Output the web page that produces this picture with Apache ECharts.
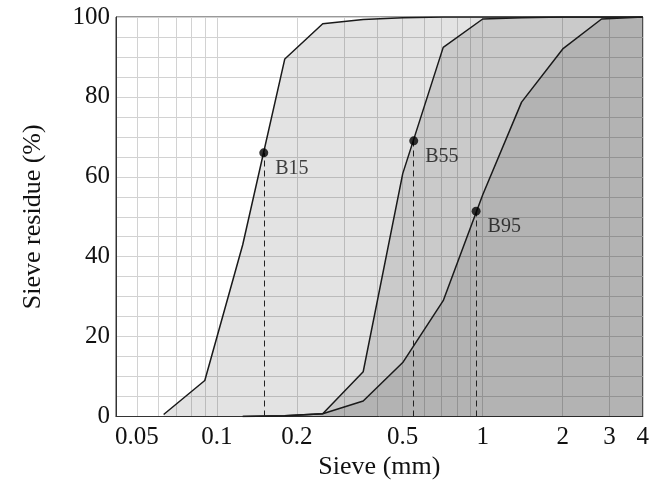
<!DOCTYPE html>
<html>
<head>
<meta charset="utf-8">
<script src="https://cdn.jsdelivr.net/npm/echarts@6/dist/echarts.min.js"></script>
<style>html,body{margin:0;padding:0;background:#fff}#c{width:652px;height:490px}</style>
</head>
<body>
<div id="c"></div>
<script>
// Sieve sizes (mm) and residue (%) per curve
const b15Sieve = [0.063, 0.09, 0.125, 0.18, 0.25, 0.355, 0.5, 0.71, 1, 4];
const b15Residue = [0.5, 9, 43, 89.5, 98.3, 99.4, 99.8, 100, 100, 100];
const b55Sieve = [0.125, 0.18, 0.25, 0.355, 0.5, 0.71, 1, 1.4, 2, 4];
const b55Residue = [0, 0.2, 0.7, 11.2, 60.8, 92.4, 99.5, 99.8, 100, 100];
const b95Sieve = [0.125, 0.18, 0.25, 0.355, 0.5, 0.71, 1, 1.4, 2, 2.8, 4];
const b95Residue = [0, 0.2, 0.7, 3.9, 13.5, 29, 55.5, 78.7, 92, 99.5, 100];
const markerNames = ['B15', 'B55', 'B95'];
const markerSieve = [0.15, 0.55, 0.944];
const markerResidue = [66, 69, 51.4];
const xGridValues = [0.05,0.06,0.07,0.08,0.09,0.1,0.2,0.3,0.4,0.5,0.6,0.7,0.8,0.9,1,2,3,4];
const xLabelValues = [0.05, 0.1, 0.2, 0.5, 1, 2, 3, 4];
const xMin = 0.0417, xMax = 4;

const L = Math.log10;
const font = 'Liberation Serif';
function pts(xs, ys){ return xs.map((x,i)=>[L(x), ys[i]]); }
function curve(name, xs, ys){
  return {
    type:'line', name, data: pts(xs, ys), symbol:'none', z:3,
    lineStyle:{color:'#1a1a1a', width:1.5},
    areaStyle:{color:'rgba(0,0,0,0.11)', opacity:1, origin:'start'}
  };
}
const chart = echarts.init(document.getElementById('c'), null, {renderer:'canvas'});
chart.setOption({
  animation:false,
  backgroundColor:'#fff',
  grid:{left:116, right:9, top:17, bottom:73.5, show:true, borderColor:'#333', borderWidth:1, backgroundColor:'transparent'},
  xAxis:{
    type:'value', min:L(xMin), max:L(xMax),
    name:'Sieve (mm)', nameLocation:'middle', nameGap:38,
    nameTextStyle:{fontFamily:font, fontSize:26, color:'#111'},
    axisLine:{show:true, onZero:false, lineStyle:{color:'#333', width:1}},
    axisTick:{show:false, customValues: xGridValues.map(L)},
    axisLabel:{customValues: xLabelValues.map(L), fontFamily:font, fontSize:25, color:'#111', margin:8,
      formatter: v => String(Number(Math.pow(10, v).toPrecision(2)))},
    splitLine:{show:true, lineStyle:{color:'#d2d2d2', width:1}}
  },
  yAxis:{
    type:'value', min:0, max:100, interval:5,
    name:'Sieve residue (%)', nameLocation:'middle', nameGap:70, nameRotate:90,
    nameTextStyle:{fontFamily:font, fontSize:26, color:'#111'},
    axisLine:{show:true, onZero:false, lineStyle:{color:'#333', width:1}},
    axisTick:{show:false},
    axisLabel:{fontFamily:font, fontSize:25, color:'#111', margin:6,
      formatter: v => (v % 20 === 0 ? String(v) : '')},
    splitLine:{show:true, lineStyle:{color:'#d2d2d2', width:1}}
  },
  series:[
    curve('B15', b15Sieve, b15Residue),
    curve('B55', b55Sieve, b55Residue),
    curve('B95', b95Sieve, b95Residue),
    {
      type:'scatter', z:5, symbol:'circle', symbolSize:9,
      itemStyle:{color:'#000'},
      data: markerNames.map((n,i)=>({name:n, value:[L(markerSieve[i]), markerResidue[i]]})),
      label:{show:true, position:'right', distance:7, offset:[0,16], formatter:'{b}',
        fontFamily:font, fontSize:20, color:'#111'},
      markLine:{
        silent:true, symbol:'none', animation:false,
        lineStyle:{color:'#222', type:[6,4], width:1},
        label:{show:false},
        data: markerNames.map((n,i)=>[{coord:[L(markerSieve[i]), 0]}, {coord:[L(markerSieve[i]), markerResidue[i]]}])
      }
    }
  ]
});
</script>
</body>
</html>
